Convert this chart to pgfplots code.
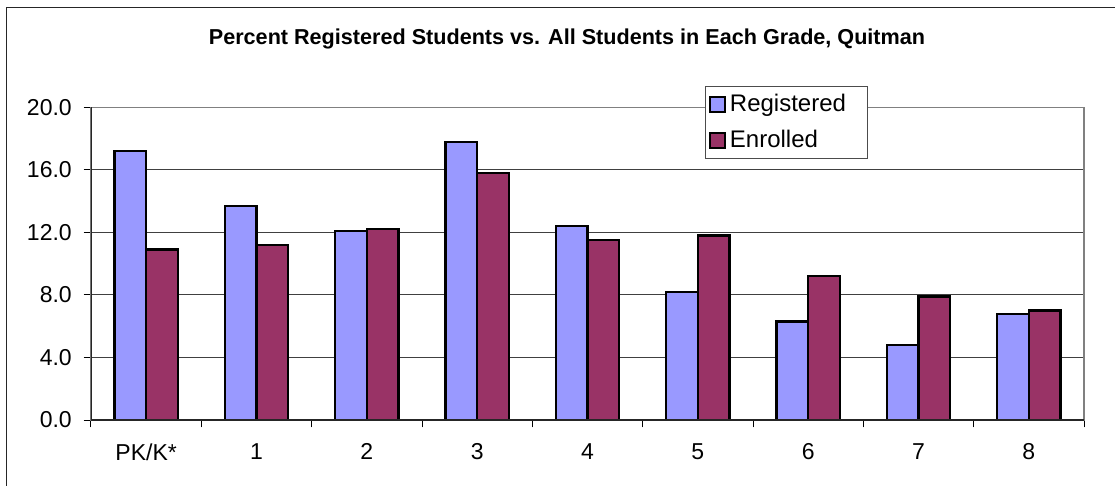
\documentclass[border=0pt]{standalone}
\usepackage{pgfplots}
\pgfplotsset{compat=1.18}
\usepackage{fontspec}
\setmainfont{Liberation Sans}
\definecolor{regblue}{HTML}{9999FF}
\definecolor{enrplum}{HTML}{993366}

% grade-level shares (percent)
\pgfplotstableread{
x reg  enr
0 17.2 10.9
1 13.7 11.2
2 12.1 12.2
3 17.8 15.8
4 12.4 11.5
5 8.2  11.8
6 6.3  9.2
7 4.8  7.9
8 6.8  7.0
}\gradedata

\begin{document}
\begin{tikzpicture}
\pgfplotsset{
  sqlegend/.style={legend image code/.code={
    \draw[##1, line width=1pt] (0pt,-3.7pt) rectangle (7.4pt,3.7pt);}},
}
\begin{axis}[
  at={(45.5pt,-210pt)}, anchor=south west,
  scale only axis, width=496.5pt, height=156.35pt,
  ybar=0pt, bar width=15.85pt,
  xmin=-0.5, xmax=8.5, ymin=0, ymax=20,
  xtick={-0.5,0.5,1.5,2.5,3.5,4.5,5.5,6.5,7.5,8.5},
  x tick label as interval,
  xticklabels={PK/K*,1,2,3,4,5,6,7,8},
  ytick={0,4,8,12,16,20},
  /pgf/number format/assume math mode=true,
  yticklabel style={xshift=-2.4pt, /pgf/number format/.cd, fixed, fixed zerofill, precision=1},
  tick align=outside, xtick pos=bottom, ytick pos=left,
  major tick length=3.7pt,
  tick style={black, line width=0.5pt},
  ymajorgrids, grid style={black!75, line width=0.5pt},
  axis line style={black!50, line width=0.8pt},
  ticklabel style={font=\fontsize{11.5}{13}\selectfont},
  xticklabel style={yshift=-4.5pt},
  legend style={at={(0.618,1.068)}, anchor=north west,
    draw=black!70, line width=0.5pt,
    font=\fontsize{12}{13}\selectfont,
    inner xsep=2pt, inner ysep=2pt, row sep=3.6pt,
    cells={anchor=west}},
]
\addplot[fill=regblue, draw=black, line width=1.1pt, sqlegend] table[x=x, y=reg] {\gradedata};
\addplot[fill=enrplum, draw=black, line width=1.1pt, sqlegend] table[x=x, y=enr] {\gradedata};
\legend{Registered\hspace*{6.5pt}\mbox{}, Enrolled}
\draw[black!85, line width=0.8pt] (rel axis cs:0,1) -- (rel axis cs:0,0) -- (rel axis cs:1,0);
\end{axis}
\node[font=\bfseries\fontsize{10.8}{12}\selectfont] at (283.5pt,-19.5pt)
  {Percent Registered Students vs. All Students in Each Grade, Quitman};
\draw[black!85, line width=0.85pt] (3.25pt,-260pt) -- (3.25pt,-3.75pt) -- (570pt,-3.75pt);
\pgfresetboundingbox
\path (0pt,0pt) rectangle (557.5pt,-243pt);
\end{tikzpicture}
\end{document}
